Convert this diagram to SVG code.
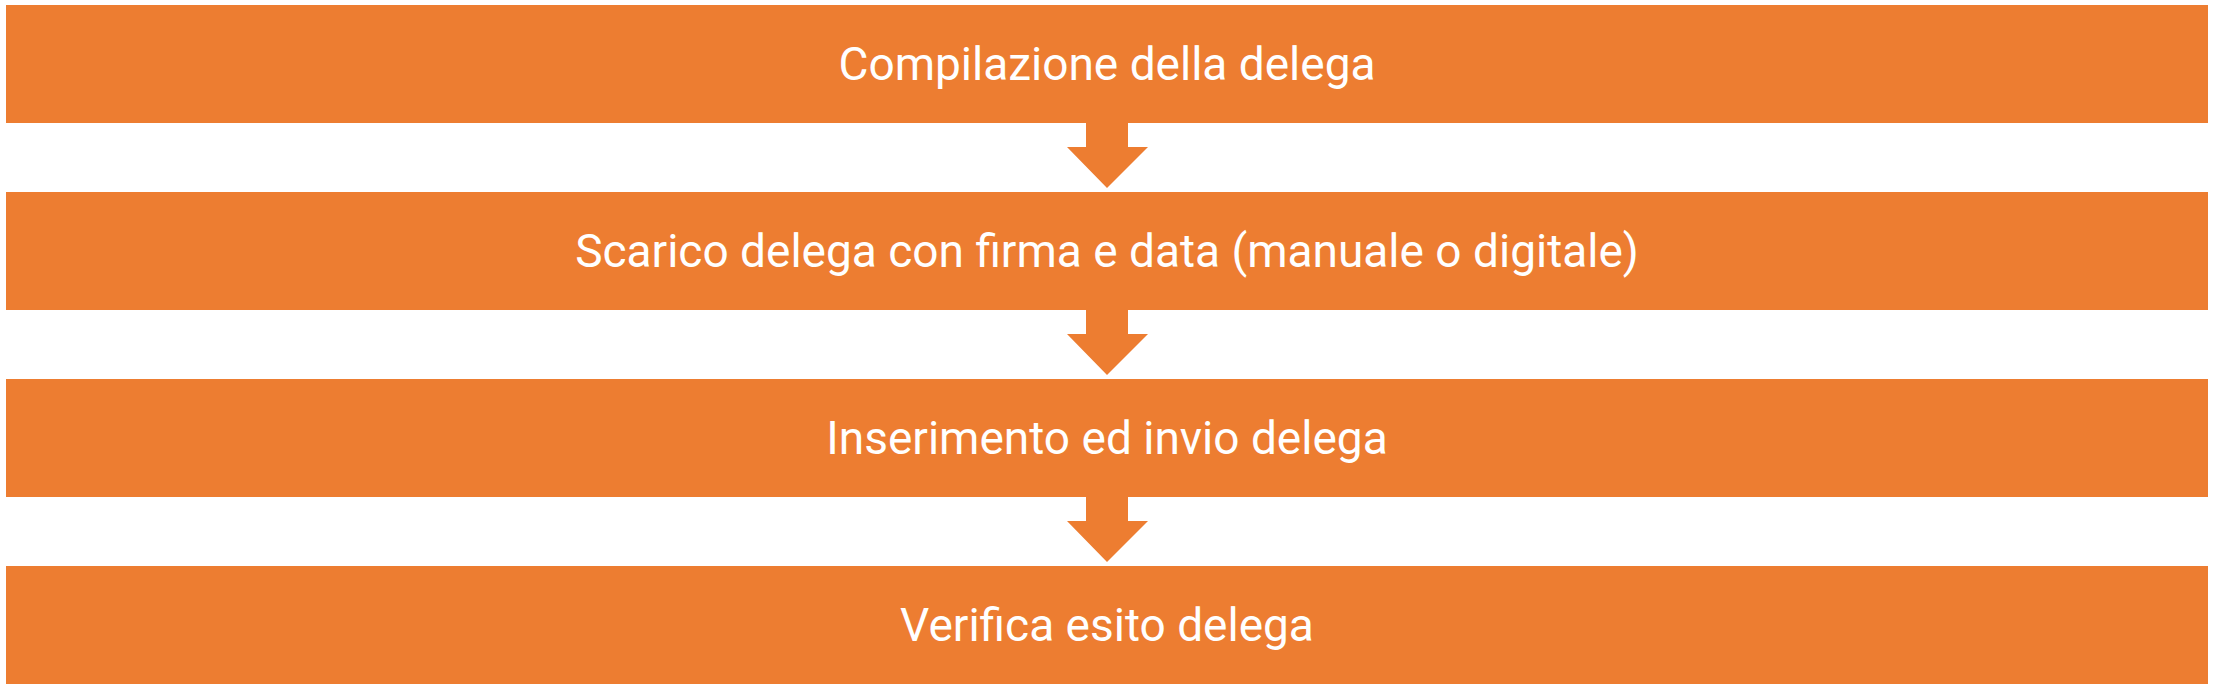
<svg xmlns="http://www.w3.org/2000/svg" width="2214" height="688" viewBox="0 0 2214 688">
<style>
.box{fill:#ED7D31}
.t{font-family:Roboto,"Liberation Sans",sans-serif;font-size:46px;fill:#fff;text-anchor:middle;dominant-baseline:central}
.arr{fill:#ED7D31}
</style>
<rect width="2214" height="688" fill="#fff"/>
<g id="connectors">
<polygon class="arr" points="1086,123 1128,123 1128,147 1148,147 1107,188 1067,147 1086,147"/>
<polygon class="arr" points="1086,310 1128,310 1128,334 1148,334 1107,375 1067,334 1086,334"/>
<polygon class="arr" points="1086,497 1128,497 1128,521 1148,521 1107,562 1067,521 1086,521"/>
</g>
<g id="n1"><rect class="box" x="6" y="5" width="2202" height="118"/><text class="t" x="1107" y="64">Compilazione della delega</text></g>
<g id="n2"><rect class="box" x="6" y="192" width="2202" height="118"/><text class="t" x="1107" y="251">Scarico delega con firma e data (manuale o digitale)</text></g>
<g id="n3"><rect class="box" x="6" y="379" width="2202" height="118"/><text class="t" x="1107" y="438">Inserimento ed invio delega</text></g>
<g id="n4"><rect class="box" x="6" y="566" width="2202" height="118"/><text class="t" x="1107" y="625">Verifica esito delega</text></g>
</svg>
